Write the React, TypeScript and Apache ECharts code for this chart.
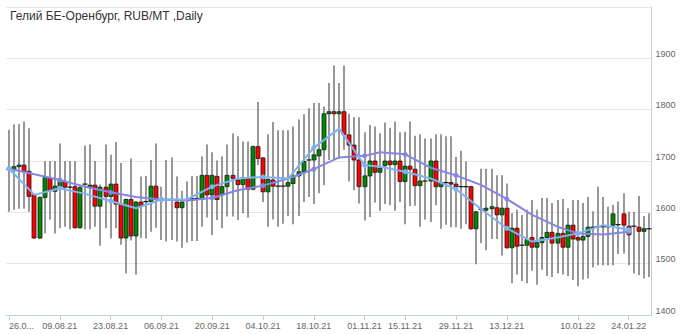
import React, { useEffect, useRef } from "react";
import * as echarts from "echarts";

const TITLE = "Гелий БЕ-Оренбург, RUB/MT ,Daily";

const dates: string[] = [
  "26.07.21", "27.07.21", "28.07.21", "29.07.21", "30.07.21",
  "02.08.21", "03.08.21", "04.08.21", "05.08.21", "06.08.21",
  "09.08.21", "10.08.21", "11.08.21", "12.08.21", "13.08.21",
  "16.08.21", "17.08.21", "18.08.21", "19.08.21", "20.08.21",
  "23.08.21", "24.08.21", "25.08.21", "26.08.21", "27.08.21",
  "30.08.21", "31.08.21", "01.09.21", "02.09.21", "03.09.21",
  "06.09.21", "07.09.21", "08.09.21", "09.09.21", "10.09.21",
  "13.09.21", "14.09.21", "15.09.21", "16.09.21", "17.09.21",
  "20.09.21", "21.09.21", "22.09.21", "23.09.21", "24.09.21",
  "27.09.21", "28.09.21", "29.09.21", "30.09.21", "01.10.21",
  "04.10.21", "05.10.21", "06.10.21", "07.10.21", "08.10.21",
  "11.10.21", "12.10.21", "13.10.21", "14.10.21", "15.10.21",
  "18.10.21", "19.10.21", "20.10.21", "21.10.21", "22.10.21",
  "25.10.21", "26.10.21", "27.10.21", "28.10.21", "29.10.21",
  "01.11.21", "02.11.21", "03.11.21",
  "08.11.21", "09.11.21", "10.11.21", "11.11.21", "12.11.21",
  "15.11.21", "16.11.21", "17.11.21", "18.11.21", "19.11.21",
  "22.11.21", "23.11.21", "24.11.21", "25.11.21", "26.11.21",
  "29.11.21", "30.11.21", "01.12.21", "02.12.21", "03.12.21",
  "06.12.21", "07.12.21", "08.12.21", "09.12.21", "10.12.21",
  "13.12.21", "14.12.21", "15.12.21", "16.12.21", "17.12.21",
  "20.12.21", "21.12.21", "22.12.21", "23.12.21", "24.12.21",
  "27.12.21", "28.12.21", "29.12.21", "30.12.21",
  "10.01.22", "11.01.22", "12.01.22", "13.01.22", "14.01.22",
  "17.01.22", "18.01.22", "19.01.22", "20.01.22", "21.01.22",
  "24.01.22", "25.01.22", "26.01.22", "27.01.22", "28.01.22",
];

// [open, close, low, high]
const ohlc: [number, number, number, number][] = [
  [1684, 1684, 1601, 1761], [1684, 1689, 1605, 1771], [1689, 1692, 1607, 1772], [1692, 1679, 1607, 1777], [1680, 1631, 1601, 1764],
  [1634, 1550, 1548, 1636], [1550, 1629, 1548, 1631], [1629, 1668, 1559, 1700], [1666, 1642, 1586, 1700], [1641, 1651, 1559, 1700],
  [1650, 1661, 1569, 1734], [1660, 1649, 1572, 1700], [1649, 1649, 1567, 1700], [1650, 1570, 1568, 1700], [1570, 1648, 1568, 1652],
  [1655, 1655, 1567, 1730], [1649, 1653, 1567, 1732], [1653, 1612, 1572, 1700], [1612, 1649, 1535, 1654], [1649, 1631, 1569, 1732],
  [1631, 1655, 1549, 1712], [1655, 1616, 1569, 1737], [1616, 1550, 1537, 1696], [1550, 1625, 1481, 1627], [1625, 1554, 1545, 1705],
  [1554, 1620, 1479, 1622], [1620, 1613, 1550, 1670], [1621, 1621, 1549, 1671], [1621, 1651, 1562, 1702], [1651, 1625, 1570, 1734],
  [1625, 1625, 1546, 1650], [1625, 1625, 1543, 1702], [1625, 1625, 1546, 1707], [1620, 1609, 1543, 1670], [1609, 1620, 1531, 1642],
  [1625, 1625, 1541, 1660], [1623, 1627, 1544, 1671], [1627, 1627, 1544, 1671], [1625, 1672, 1572, 1709], [1672, 1634, 1590, 1732],
  [1634, 1672, 1556, 1717], [1670, 1625, 1585, 1701], [1634, 1650, 1569, 1709], [1650, 1672, 1592, 1732], [1672, 1666, 1592, 1754],
  [1663, 1654, 1585, 1748], [1654, 1667, 1598, 1738], [1666, 1645, 1590, 1738], [1645, 1728, 1643, 1730], [1728, 1705, 1692, 1815],
  [1706, 1640, 1620, 1708], [1640, 1664, 1572, 1752], [1663, 1651, 1586, 1776], [1651, 1651, 1572, 1760], [1651, 1651, 1578, 1760],
  [1651, 1658, 1593, 1760], [1656, 1671, 1577, 1767], [1671, 1679, 1593, 1781], [1679, 1699, 1620, 1791], [1702, 1702, 1630, 1803],
  [1702, 1712, 1616, 1813], [1710, 1722, 1637, 1813], [1722, 1792, 1653, 1806], [1792, 1796, 1702, 1852], [1796, 1792, 1704, 1886],
  [1792, 1796, 1705, 1852], [1796, 1751, 1722, 1886], [1751, 1731, 1660, 1792], [1731, 1702, 1643, 1785], [1702, 1650, 1617, 1785],
  [1650, 1671, 1584, 1756], [1671, 1700, 1591, 1770], [1700, 1678, 1619, 1767],
  [1678, 1686, 1603, 1754], [1691, 1700, 1616, 1775], [1700, 1693, 1614, 1765], [1693, 1700, 1603, 1777], [1700, 1660, 1620, 1756],
  [1660, 1690, 1577, 1757], [1690, 1684, 1612, 1777], [1684, 1652, 1613, 1749], [1652, 1661, 1572, 1752], [1661, 1661, 1586, 1744],
  [1661, 1700, 1581, 1744], [1700, 1650, 1614, 1752], [1650, 1658, 1568, 1752], [1658, 1658, 1576, 1748], [1658, 1655, 1571, 1748],
  [1655, 1650, 1571, 1708], [1650, 1650, 1568, 1720], [1650, 1650, 1577, 1699], [1650, 1568, 1566, 1652], [1568, 1601, 1499, 1603],
  [1606, 1606, 1540, 1685], [1604, 1608, 1526, 1685], [1607, 1611, 1548, 1685], [1609, 1595, 1548, 1672], [1595, 1608, 1516, 1672],
  [1608, 1531, 1529, 1656], [1531, 1569, 1462, 1598], [1569, 1534, 1479, 1605], [1536, 1536, 1466, 1595], [1536, 1547, 1462, 1605],
  [1551, 1532, 1486, 1624], [1532, 1541, 1459, 1605], [1541, 1551, 1488, 1628], [1551, 1561, 1476, 1628], [1561, 1540, 1474, 1618],
  [1540, 1559, 1481, 1624], [1559, 1532, 1479, 1626], [1532, 1575, 1476, 1608], [1575, 1548, 1468, 1624],
  [1551, 1546, 1456, 1624], [1546, 1553, 1469, 1618], [1553, 1571, 1471, 1630], [1571, 1571, 1493, 1602], [1572, 1572, 1497, 1650],
  [1572, 1572, 1497, 1630], [1572, 1572, 1497, 1611], [1575, 1597, 1497, 1615], [1576, 1576, 1519, 1621], [1597, 1575, 1520, 1637],
  [1573, 1556, 1497, 1601], [1573, 1573, 1481, 1601], [1571, 1563, 1478, 1632], [1563, 1568, 1471, 1593], [1568, 1568, 1474, 1598],
];

const maDates: string[] = [
  "26.07.21", "02.08.21", "09.08.21", "16.08.21", "23.08.21", "30.08.21", "06.09.21", "13.09.21", "20.09.21",
  "27.09.21", "04.10.21", "11.10.21", "18.10.21", "25.10.21", "01.11.21", "08.11.21", "15.11.21", "22.11.21",
  "29.11.21", "06.12.21", "13.12.21", "20.12.21", "27.12.21", "10.01.22", "17.01.22", "24.01.22",
];
const maShort: number[] = [
  1685, 1634, 1647, 1636, 1622, 1608, 1625, 1625, 1650,
  1666, 1669, 1666, 1726, 1763, 1692, 1689, 1679, 1666,
  1645, 1606, 1569, 1543, 1551, 1559, 1575, 1566,
];
const maLong: number[] = [
  1685, 1674, 1663, 1650, 1639, 1630, 1625, 1623, 1628,
  1643, 1652, 1666, 1684, 1707, 1710, 1717, 1713, 1687,
  1672, 1653, 1626, 1595, 1572, 1559, 1557, 1562,
];

const tickDates: string[] = [
  "26.07.21", "09.08.21", "23.08.21", "06.09.21", "20.09.21", "04.10.21", "18.10.21",
  "01.11.21", "15.11.21", "29.11.21", "13.12.21", "10.01.22", "24.01.22",
];

const FONT = "'Liberation Sans', Arial, sans-serif";

export default function App() {
  const ref = useRef<HTMLDivElement>(null);
  useEffect(() => {
    document.body.style.margin = "0";
    if (!ref.current) return;
    const chart = echarts.init(ref.current, undefined, { renderer: "svg" });
    const candleData = ohlc.map((r, i) => [i, r[0], r[1], r[2], r[3]]);
    const showTick = (_i: number, v: string) => tickDates.includes(v);
    chart.setOption({
      animation: false,
      backgroundColor: "#ffffff",
      title: {
        text: TITLE,
        left: 5,
        top: 5,
        textStyle: { fontSize: 12, fontWeight: "normal", color: "#333", fontFamily: FONT },
      },
      grid: { left: 6.5, right: 28.5, top: 7, bottom: 19, containLabel: false },
      xAxis: {
        type: "category",
        data: dates,
        boundaryGap: true,
        axisLine: { lineStyle: { color: "#c0d0e0", width: 1 } },
        axisTick: { show: true, alignWithLabel: true, interval: showTick, length: 5, lineStyle: { color: "#c0d0e0" } },
        axisLabel: {
          interval: showTick,
          formatter: (v: string, i: number) => (i === 0 ? v.slice(0, 4) + "..." : v),
          color: "#666",
          fontSize: 9,
          fontFamily: FONT,
          margin: 6,
          alignMinLabel: "left",
        },
        splitLine: { show: false },
      },
      yAxis: {
        type: "value",
        position: "right",
        min: 1400,
        max: 2000,
        interval: 100,
        axisLine: { show: true, lineStyle: { color: "#c0d0e0", width: 1 } },
        axisTick: { show: false },
        axisLabel: {
          color: "#666",
          fontSize: 9,
          fontFamily: FONT,
          margin: 4,
          verticalAlign: "bottom",
          showMaxLabel: false,
          formatter: (v: number) => String(v),
        },
        splitLine: { show: true, lineStyle: { color: "#e6e6e6", width: 1 } },
      },
      series: [
        {
          type: "custom",
          data: candleData,
          encode: { x: 0, y: [1, 2, 3, 4] },
          z: 2,
          renderItem: (_params: any, api: any) => {
            const idx = api.value(0);
            const o = api.value(1);
            const c = api.value(2);
            const l = api.value(3);
            const h = api.value(4);
            const pH = api.coord([idx, h]);
            const pL = api.coord([idx, l]);
            const pO = api.coord([idx, o]);
            const pC = api.coord([idx, c]);
            const x = Math.round(pH[0]);
            const bw = 4;
            const children: any[] = [
              {
                type: "line",
                shape: { x1: x, y1: pH[1], x2: x, y2: pL[1] },
                style: { stroke: "#767676", lineWidth: 1.5 },
              },
            ];
            if (Math.abs(o - c) < 0.5) {
              children.push({
                type: "line",
                shape: { x1: x - 2.5, y1: pO[1], x2: x + 2.5, y2: pO[1] },
                style: { stroke: "#111", lineWidth: 1.2 },
              });
            } else {
              children.push({
                type: "rect",
                shape: { x: x - bw / 2, y: Math.min(pO[1], pC[1]), width: bw, height: Math.abs(pO[1] - pC[1]) },
                style: { fill: c > o ? "#008a00" : "#ff0000", stroke: "#1a1a1a", lineWidth: 0.8 },
              });
            }
            return { type: "group", children };
          },
        },
        {
          type: "line",
          data: maDates.map((d, i) => [d, maLong[i]]),
          z: 3,
          symbol: "circle",
          symbolSize: 5,
          lineStyle: { color: "#8585e8", width: 2 },
          itemStyle: { color: "#8585e8" },
        },
        {
          type: "line",
          data: maDates.map((d, i) => [d, maShort[i]]),
          z: 4,
          symbol: "circle",
          symbolSize: 5,
          lineStyle: { color: "#7fb2f0", width: 2 },
          itemStyle: { color: "#7fb2f0" },
        },
      ],
    });
    return () => chart.dispose();
  }, []);
  return <div ref={ref} style={{ width: 680, height: 334 }} />;
}
